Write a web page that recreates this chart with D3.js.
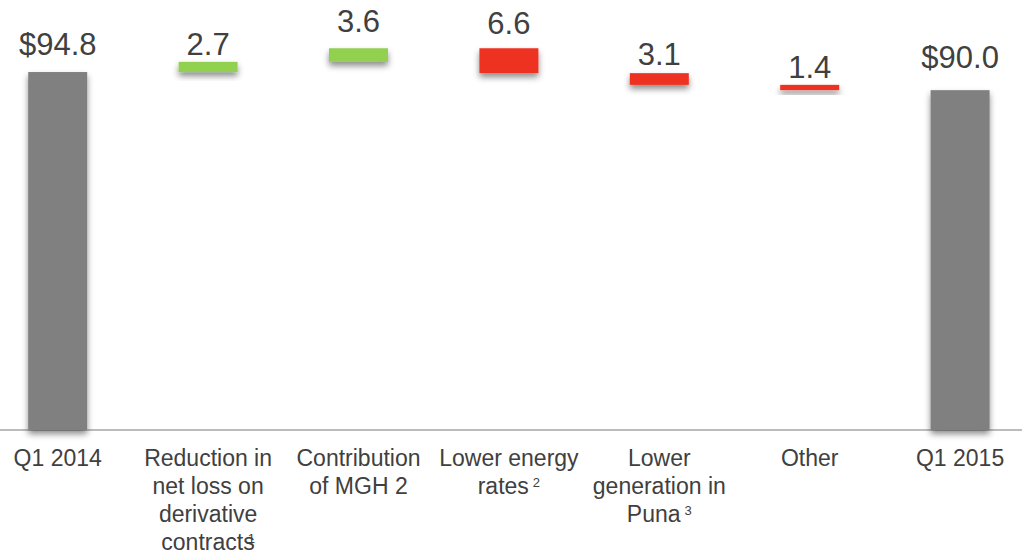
<!DOCTYPE html>
<html>
<head>
<meta charset="utf-8">
<script src="https://cdn.jsdelivr.net/npm/d3@7"></script>
<style>
  body { margin: 0; background: #fff; }
  text { font-family: "Liberation Sans", Arial, sans-serif; fill: #404040; }
</style>
</head>
<body>
<div class="chart"></div>
<script>
const width = 1022;
const height = 551;

// data
const categories = ["Q1 2014", "Reduction in net loss on derivative contracts", "Contribution of MGH 2",
  "Lower energy rates", "Lower generation in Puna", "Other", "Q1 2015"];
const labelLines = [["Q1 2014"], ["Reduction in", "net loss on", "derivative", "contracts"],
  ["Contribution", "of MGH 2"], ["Lower energy", "rates"], ["Lower", "generation in", "Puna"],
  ["Other"], ["Q1 2015"]];
const footnotes = ["", "1", "", "2", "3", "", ""];
const kinds = ["total", "increase", "increase", "decrease", "decrease", "decrease", "total"];
const values = [94.8, 2.7, 3.6, 6.6, 3.1, 1.4, 90.0];
const valueLabels = ["$94.8", "2.7", "3.6", "6.6", "3.1", "1.4", "$90.0"];

const colors = { total: "#808080", increase: "#92d050", decrease: "#ee3124" };
const labelGap = [17, 7, 16, 14, 8, 7, 22];

// running totals for the waterfall
let running = 0;
const bars = categories.map((c, i) => {
  let lo, hi;
  if (kinds[i] === "total") { lo = 0; hi = values[i]; running = values[i]; }
  else if (kinds[i] === "increase") { lo = running; hi = running + values[i]; running = hi; }
  else { hi = running; lo = running - values[i]; running = lo; }
  return { cat: c, lo, hi, kind: kinds[i], label: valueLabels[i], i };
});

const svg = d3.select(".chart").append("svg").attr("width", width).attr("height", height);

const defs = svg.append("defs");
defs.append("filter")
    .attr("id", "shadow")
    .attr("x", "-20%").attr("y", "-20%").attr("width", "140%").attr("height", "200%")
  .append("feDropShadow")
    .attr("dx", 0).attr("dy", 4).attr("stdDeviation", 3)
    .attr("flood-color", "#000").attr("flood-opacity", 0.45);

const x = d3.scaleBand()
    .domain(categories)
    .range([-17.5, 1035.3]);

const y = d3.scaleLinear()
    .domain([0, 100])
    .range([430, 52.4]);

const barW = 59;

svg.append("line")
    .attr("x1", 0).attr("x2", width)
    .attr("y1", y(0)).attr("y2", y(0))
    .attr("stroke", "#a6a6a6").attr("stroke-width", 1.5);

svg.selectAll(".bar")
  .data(bars)
  .enter()
    .append("rect")
    .attr("class", "bar")
    .attr("x", d => x(d.cat) + (x.bandwidth() - barW) / 2)
    .attr("width", barW)
    .attr("y", d => y(d.hi))
    .attr("height", d => y(d.lo) - y(d.hi))
    .attr("fill", d => colors[d.kind])
    .attr("filter", "url(#shadow)");

svg.selectAll(".value")
  .data(bars)
  .enter()
    .append("text")
    .attr("class", "value")
    .attr("x", d => x(d.cat) + x.bandwidth() / 2)
    .attr("y", d => y(d.hi) - labelGap[d.i])
    .attr("text-anchor", "middle")
    .style("font-size", "31px")
    .text(d => d.label);

const cats = svg.selectAll(".cat")
  .data(bars)
  .enter()
    .append("text")
    .attr("class", "cat")
    .attr("text-anchor", "middle")
    .style("font-size", "23px");

cats.each(function(d) {
  const t = d3.select(this);
  const cx = x(d.cat) + x.bandwidth() / 2;
  const lines = labelLines[d.i];
  lines.forEach((line, k) => {
    const last = k === lines.length - 1;
    const fn = footnotes[d.i];
    const row = t.append("tspan")
        .attr("x", cx)
        .attr("y", 466 + k * 28);
    if (last && fn) {
      row.append("tspan").text(line);
      row.append("tspan")
          .attr("dx", fn === "1" ? -7 : 4)
          .attr("dy", -7)
          .style("font-size", "13px")
          .text(fn);
    } else {
      row.text(line);
    }
  });
});
</script>
</body>
</html>
